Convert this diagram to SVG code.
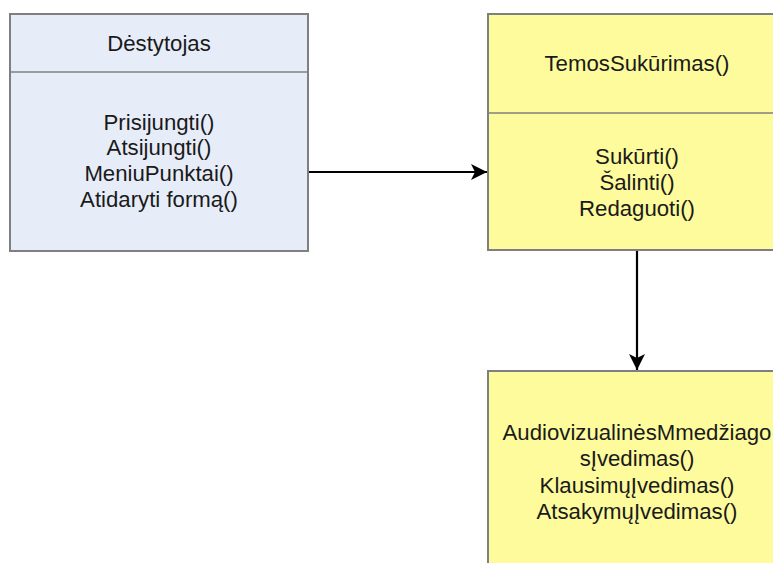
<svg xmlns="http://www.w3.org/2000/svg" width="773" height="563" viewBox="0 0 773 563">
  <style>
    .box { stroke: #7f7f7f; stroke-width: 2; }
    .blue { fill: #e7edf8; }
    .yellow { fill: #fdfb9b; }
    .sep { stroke: #7f7f7f; stroke-width: 1.5; fill: none; }
    text { font-family: "Liberation Sans", Arial, sans-serif; font-size: 22.2px; fill: #1a1a1a; text-anchor: middle; dominant-baseline: central; }
    .conn { stroke: #000; stroke-width: 2.2; fill: none; }
  </style>
  <defs>
    <marker id="arrow" viewBox="0 0 16 16" refX="16" refY="8" markerWidth="16" markerHeight="16" markerUnits="userSpaceOnUse" orient="auto">
      <path d="M0,0 L16,8 L0,16 L4,8 Z" fill="#000"/>
    </marker>
  </defs>
  <rect width="773" height="563" fill="#ffffff"/>

  <g id="destytojas">
    <rect class="box blue" x="10" y="14" width="298" height="237"/>
    <line class="sep" x1="10" y1="72" x2="308" y2="72"/>
    <text x="159" y="43">Dėstytojas</text>
    <text x="159" y="122">Prisijungti()</text>
    <text x="159" y="147.5">Atsijungti()</text>
    <text x="159" y="173">MeniuPunktai()</text>
    <text x="159" y="199">Atidaryti formą()</text>
  </g>

  <g id="temos-sukurimas">
    <rect class="box yellow" x="488" y="14" width="300" height="236"/>
    <line class="sep" x1="488" y1="113" x2="788" y2="113"/>
    <text x="637" y="63">TemosSukūrimas()</text>
    <text x="637" y="156">Sukūrti()</text>
    <text x="637" y="182">Šalinti()</text>
    <text x="637" y="208">Redaguoti()</text>
  </g>

  <g id="medziagos-ivedimas">
    <rect class="box yellow" x="488" y="371" width="300" height="220"/>
    <text x="637" y="432">AudiovizualinėsMmedžiago</text>
    <text x="637" y="458">sĮvedimas()</text>
    <text x="637" y="485">KlausimųĮvedimas()</text>
    <text x="637" y="511">AtsakymųĮvedimas()</text>
  </g>

  <g id="connectors">
    <line class="conn" x1="309" y1="172" x2="487" y2="172" marker-end="url(#arrow)"/>
    <line class="conn" x1="637" y1="251" x2="637" y2="370" marker-end="url(#arrow)"/>
  </g>
</svg>
